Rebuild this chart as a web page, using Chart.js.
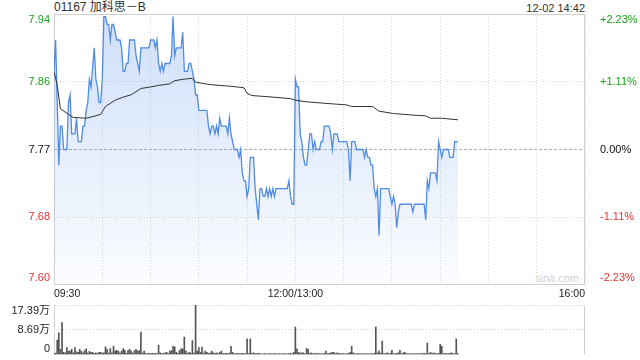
<!DOCTYPE html>
<html>
<head>
<meta charset="utf-8">
<script src="https://cdn.jsdelivr.net/npm/chart.js@4/dist/chart.umd.min.js"></script>
<style>
body {
  margin: 0;
  width: 640px;
  height: 360px;
  overflow: hidden;
  background: #fff;
  position: relative;
  font-family: Arial, "Liberation Sans", "Noto Sans CJK SC", sans-serif;
}
#title { position: absolute; left: 54px; top: 0; font-size: 12px; line-height: 15px; color: #333; }
#stamp { position: absolute; right: 55px; top: 1px; font-size: 11px; line-height: 14px; color: #333; }
#mark { position: absolute; left: 535px; top: 272px; font-size: 11px; color: #cfcfcf; }
#price { position: absolute; left: 0; top: 0; }
#vol { position: absolute; left: 0; top: 296px; }
</style>
</head>
<body>

<div id="mark">sina.com</div>
<div id="title">01167 加科思－B</div>
<div id="stamp">12-02 14:42</div>
<canvas id="price" width="640" height="300"></canvas>
<canvas id="vol" width="640" height="64"></canvas>

<script>
// tick labels
var prevClose = 7.77;
var priceTicks = ['7.94', '7.86', '7.77', '7.68', '7.60'];
var pctTicks = ['+2.23%', '+1.11%', '0.00%', '-1.11%', '-2.23%'];
var timeMinutes = [0, 150, 330];
var timeTicks = ['09:30', '12:00/13:00', '16:00'];
var volTicks = ['17.39万', '8.69万', '0'];
var volMax = 17.39;

// price line, minutes after 09:30 (lunch break removed)
var priceMinutes = [0, 1, 3, 4, 5, 6, 8, 9, 10, 11, 13, 14, 15, 17, 18, 19, 20, 21, 22, 23,
  25, 26, 27, 28, 29, 30, 31, 32, 33, 34, 35, 36, 37, 38, 39, 41, 42, 43, 44, 45,
  46, 47, 50, 51, 53, 54, 59, 60, 62, 63, 64, 65, 66, 67, 68, 69, 72, 73, 74, 75,
  76, 79, 80, 81, 83, 84, 85, 86, 87, 88, 89, 90, 95, 96, 97, 98, 99, 100, 101, 102,
  103, 104, 107, 108, 109, 110, 111, 112, 114, 115, 116, 117, 118, 119, 120, 121, 122, 124, 125, 127,
  128, 129, 130, 131, 132, 133, 134, 135, 136, 137, 138, 145, 146, 147, 148, 149,
  150, 151, 152, 153, 154, 155, 156, 157, 158, 159, 160, 161, 162, 163, 165, 166, 167, 168, 171, 172,
  173, 174, 176, 177, 182, 183, 184, 185, 187, 188, 192, 193, 194, 195, 196, 197, 198, 199, 200, 201,
  202, 203, 208, 209, 210, 211, 212, 213, 214, 215, 222, 223, 224, 230, 231, 232, 233, 234, 237, 238,
  239, 241, 242, 245, 246, 248, 249, 251];
var priceValues = [7.87, 7.91, 7.75, 7.80, 7.80, 7.77, 7.77, 7.83, 7.84, 7.79, 7.79, 7.81, 7.78, 7.78, 7.80, 7.80, 7.82, 7.83, 7.86, 7.85,
  7.90, 7.86, 7.85, 7.83, 7.83, 7.86, 7.94, 7.94, 7.93, 7.93, 7.91, 7.93, 7.93, 7.92, 7.91, 7.91, 7.90, 7.87, 7.87, 7.88,
  7.88, 7.91, 7.91, 7.89, 7.87, 7.90, 7.90, 7.91, 7.91, 7.90, 7.91, 7.88, 7.87, 7.88, 7.87, 7.88, 7.88, 7.89, 7.94, 7.89,
  7.90, 7.90, 7.92, 7.87, 7.87, 7.88, 7.88, 7.87, 7.86, 7.84, 7.84, 7.82, 7.82, 7.80, 7.79, 7.80, 7.80, 7.79, 7.80, 7.79,
  7.81, 7.80, 7.80, 7.79, 7.81, 7.79, 7.78, 7.77, 7.77, 7.76, 7.77, 7.74, 7.73, 7.73, 7.71, 7.72, 7.76, 7.76, 7.72, 7.68,
  7.72, 7.72, 7.71, 7.71, 7.72, 7.71, 7.72, 7.71, 7.72, 7.71, 7.72, 7.72, 7.73, 7.71, 7.70, 7.70,
  7.86, 7.85, 7.85, 7.79, 7.78, 7.76, 7.75, 7.75, 7.77, 7.79, 7.79, 7.77, 7.78, 7.77, 7.77, 7.78, 7.78, 7.80, 7.80, 7.79,
  7.77, 7.79, 7.79, 7.78, 7.78, 7.77, 7.73, 7.78, 7.78, 7.77, 7.77, 7.76, 7.77, 7.76, 7.76, 7.75, 7.75, 7.72, 7.71, 7.72,
  7.66, 7.72, 7.72, 7.71, 7.70, 7.71, 7.70, 7.67, 7.69, 7.70, 7.70, 7.69, 7.70, 7.70, 7.68, 7.73, 7.72, 7.74, 7.74, 7.73,
  7.78, 7.76, 7.77, 7.77, 7.76, 7.76, 7.78, 7.78];

// average price line
var avgMinutes = [0, 2, 4, 9, 12, 20, 24, 29, 32, 38, 43, 48, 54, 60, 65, 72, 75, 81, 86, 88,
  97, 109, 118, 120, 123, 136, 147, 150, 157, 169, 182, 185, 198, 202, 211, 223, 231, 234, 241, 251];
var avgValues = [7.870, 7.852, 7.822, 7.815, 7.811, 7.810, 7.812, 7.815, 7.825, 7.833, 7.837, 7.840, 7.848, 7.850, 7.852, 7.854, 7.858, 7.860, 7.861, 7.856,
  7.853, 7.851, 7.849, 7.842, 7.839, 7.837, 7.835, 7.833, 7.831, 7.829, 7.827, 7.825, 7.825, 7.819, 7.816, 7.814, 7.813, 7.810, 7.810, 7.808];

// volume per minute, in 万
var volume = [0.5, 0.4, 5.1, 7.6, 1.8, 11.2, 0.8, 0.6, 2.4, 1.2,
  1.2, 1.8, 0.6, 2.4, 0.9, 0.8, 1.8, 1.1, 0.6, 1.4,
  2.0, 0.5, 1.1, 0.8, 0.8, 0.4, 0.6, 0.4, 0.8, 0.8,
  0.5, 0.6, 2.7, 1.8, 0.5, 2.1, 0.6, 2.9, 1.2, 1.5,
  1.2, 0.5, 1.2, 2.1, 1.5, 0.4, 1.4, 1.8, 1.2, 0.5,
  1.4, 1.8, 1.2, 1.4, 7.9, 0.5, 1.2, 0.3, 0.3, 0.4,
  0.3, 0.4, 0.3, 0.4, 0.3, 3.3, 0.6, 0.3, 0.4, 0.6,
  0.8, 0.3, 1.2, 1.4, 2.9, 2.7, 0.8, 0.4, 1.4, 2.0,
  2.0, 6.1, 1.2, 0.4, 0.8, 0.5, 4.9, 0.5, 17.39, 1.2,
  2.4, 0.8, 2.6, 0.5, 1.2, 0.8, 0.4, 0.5, 1.2, 0.6,
  0.4, 0.6, 0.3, 0.8, 1.2, 0.4, 0.3, 0.4, 0.3, 0.5,
  2.9, 0.8, 0.3, 0.3, 0.4, 0.3, 0.3, 0.4, 0.3, 0.3,
  5.5, 0.3, 5.5, 0.4, 0.6, 0.3, 0.3, 0.4, 0.3, 0.2,
  0.2, 0.3, 0.2, 0.2, 0.3, 0.2, 0.2, 0.3, 0.2, 0.2,
  0.3, 0.2, 0.2, 0.3, 0.2, 0.2, 0.3, 0.4, 0.3, 0.8,
  9.6, 2.0, 0.8, 0.5, 0.6, 0.6, 0.3, 2.2, 1.8, 0.4,
  0.6, 0.3, 0.3, 0.4, 0.3, 0.3, 0.2, 0.3, 0.4, 1.2,
  0.3, 0.4, 0.6, 0.8, 0.8, 0.3, 0.6, 0.4, 0.3, 0.3,
  0.3, 0.2, 0.3, 0.4, 0.8, 2.9, 0.6, 0.3, 0.2, 0.3,
  0.2, 0.3, 0.2, 0.3, 0.2, 0.3, 0.2, 0.3, 0.2, 0.4,
  9.6, 0.6, 1.2, 0.5, 4.7, 0.3, 0.3, 0.6, 0.3, 0.4,
  1.5, 0.3, 0.3, 0.4, 0.6, 1.5, 0.3, 0.6, 0.8, 0.3,
  0.3, 0.2, 0.3, 0.2, 0.3, 0.2, 0.3, 0.2, 0.3, 0.3,
  0.4, 0.3, 4.0, 0.3, 0.8, 0.3, 0.6, 0.3, 0.3, 0.4,
  3.6, 2.9, 0.3, 0.4, 0.3, 0.3, 0.4, 0.6, 0.3, 0.3,
  5.5, 0.3];

Chart.defaults.font.family = 'Arial, "Liberation Sans", "Noto Sans CJK SC", sans-serif';
Chart.defaults.font.size = 11;

var green = '#1a9f1a', red = '#e83030';
var lo = prevClose * (1 - 0.0223), hi = prevClose * (1 + 0.0223);
var step = (hi - lo) / 4;
// top / bottom labels sit a few pixels inside the frame
var priceTickVals = [lo + 0.009, lo + step, prevClose, hi - step, hi - 0.0077];

var priceData = priceMinutes.map(function (m, i) { return { x: m, y: priceValues[i] }; });
var avgData = avgMinutes.map(function (m, i) { return { x: m, y: avgValues[i] }; });
var volData = volume.map(function (v, i) { return { x: i, y: v }; });

// fixed axis size, no extra room for the end labels
function fixWidth(w) {
  return function (s) { s.width = w; s.paddingTop = 0; s.paddingBottom = 0; };
}

var frame = {
  id: 'frame',
  beforeDatasetsDraw: function (chart, args, opts) {
    var a = chart.chartArea, c = chart.ctx;
    var l = Math.round(a.left) + 0.5, r = Math.round(a.right) - 0.5;
    var t = Math.round(a.top) + 0.5, b = Math.round(a.bottom) - 0.5;
    c.save();
    c.strokeStyle = opts.color || '#cfcfcf';
    c.lineWidth = 1;
    c.beginPath();
    c.moveTo(l, t); c.lineTo(l, b);
    c.moveTo(r, t); c.lineTo(r, b);
    if (!opts.noBottom) { c.moveTo(l, b); c.lineTo(r, b); }
    c.stroke();
    if (opts.dottedTop) c.setLineDash([1, 2]);
    c.beginPath();
    c.moveTo(l, t); c.lineTo(r, t);
    c.stroke();
    c.restore();
  }
};

new Chart(document.getElementById('price'), {
  type: 'line',
  data: {
    datasets: [
      {
        data: avgData,
        borderColor: '#333',
        borderWidth: 1,
        pointRadius: 0,
        fill: false,
        order: 1
      },
      {
        data: priceData,
        borderColor: '#4f8ce8',
        borderWidth: 1.3,
        pointRadius: 0,
        fill: 'start',
        backgroundColor: function (ctx) {
          var a = ctx.chart.chartArea;
          if (!a) return 'rgba(79,140,232,0.15)';
          var g = ctx.chart.ctx.createLinearGradient(0, a.top, 0, a.bottom);
          g.addColorStop(0, 'rgba(79,140,232,0.28)');
          g.addColorStop(1, 'rgba(79,140,232,0.02)');
          return g;
        },
        order: 2
      }
    ]
  },
  options: {
    responsive: false,
    animation: false,
    layout: { padding: { top: 14, left: 0, right: 0, bottom: 0 } },
    plugins: { legend: { display: false }, tooltip: { enabled: false }, frame: { color: '#d0d0d0' } },
    scales: {
      x: {
        type: 'linear', min: 0, max: 330,
        afterBuildTicks: function (s) {
          var t = [];
          for (var v = 0; v <= 330; v += 30) t.push({ value: v });
          s.ticks = t;
        },
        afterFit: function (s) { s.height = 15; },
        grid: { color: '#d6d6d6', drawTicks: false },
        border: { display: false, dash: [1, 2] },
        ticks: {
          autoSkip: false, maxRotation: 0, align: 'inner', padding: 3,
          color: '#222', font: { size: 10.5 },
          callback: function (v) {
            var k = timeMinutes.indexOf(v);
            return k < 0 ? '' : timeTicks[k];
          }
        }
      },
      y: {
        position: 'left', min: lo, max: hi,
        afterBuildTicks: function (s) { s.ticks = priceTickVals.map(function (v) { return { value: v }; }); },
        afterFit: fixWidth(54),
        grid: {
          drawTicks: false,
          color: function (c) {
            if (c.index === 2) return '#b0b0b0';
            return (c.index === 1 || c.index === 3) ? '#d6d6d6' : 'rgba(0,0,0,0)';
          }
        },
        border: { display: false, dash: function (c) { return c.index === 2 ? [3, 2] : [1, 2]; } },
        ticks: {
          padding: 4,
          color: function (c) { return c.index < 2 ? red : (c.index === 2 ? '#111' : green); },
          callback: function (v, i) { return priceTicks[4 - i]; }
        }
      },
      y2: {
        position: 'right', min: lo, max: hi,
        afterBuildTicks: function (s) { s.ticks = priceTickVals.map(function (v) { return { value: v }; }); },
        afterFit: fixWidth(55),
        grid: { display: false },
        border: { display: false },
        ticks: {
          padding: 7,
          color: function (c) { return c.index < 2 ? red : (c.index === 2 ? '#111' : green); },
          callback: function (v, i) { return pctTicks[4 - i]; }
        }
      }
    }
  },
  plugins: [frame]
});

var volTickVals = [2.1, 8.69, volMax - 2.2];

new Chart(document.getElementById('vol'), {
  type: 'bar',
  data: {
    datasets: [{ data: volData, backgroundColor: '#555', barThickness: 1 }]
  },
  options: {
    responsive: false,
    animation: false,
    layout: { padding: { top: 9, bottom: 5.5, left: 0, right: 55 } },
    plugins: { legend: { display: false }, tooltip: { enabled: false }, frame: { color: '#d0d0d0', dottedTop: true, noBottom: true } },
    scales: {
      x: { type: 'linear', min: 0, max: 330, offset: false, display: false, grid: { offset: false } },
      y: {
        min: 0, max: volMax,
        afterBuildTicks: function (s) { s.ticks = volTickVals.map(function (v) { return { value: v }; }); },
        afterFit: fixWidth(54),
        grid: {
          drawTicks: false,
          color: function (c) { return c.index === 1 ? '#cfcfcf' : 'rgba(0,0,0,0)'; }
        },
        border: { display: false, dash: [1, 2] },
        ticks: {
          padding: 4, color: '#222',
          callback: function (v, i) { return volTicks[2 - i]; }
        }
      }
    }
  },
  plugins: [frame]
});
</script>

</body>
</html>
